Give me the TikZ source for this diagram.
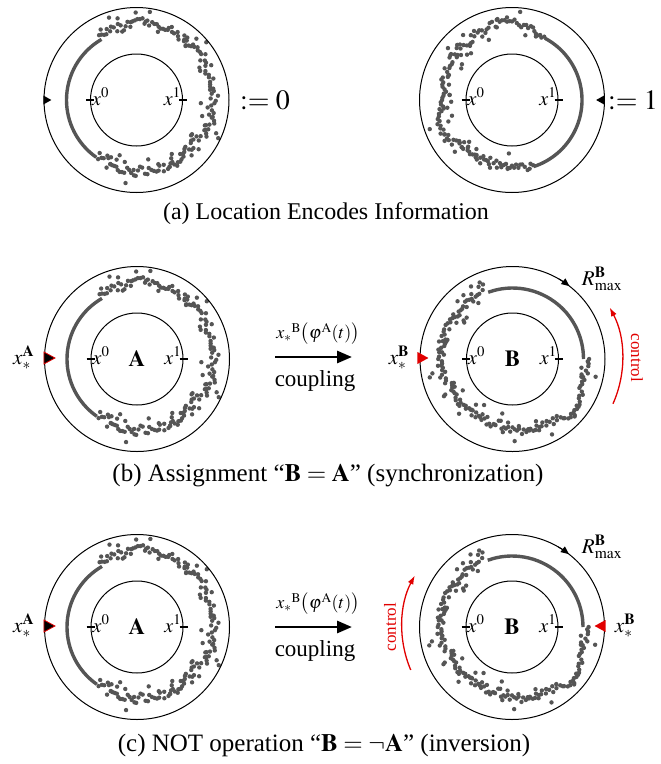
\documentclass[tikz,border=0pt]{standalone}
\usepackage{mathptmx}
\usepackage{fontspec}
\setmainfont{Liberation Serif}
\usetikzlibrary{positioning,shapes.geometric,arrows.meta}

\definecolor{dotgray}{RGB}{85,85,85}
\definecolor{ctrlred}{RGB}{225,0,0}

% ring with ticks at x^0 and x^1
\newcommand\ring[3]{%
  \node[outerring] (#1o) at (#2,#3) {};
  \node[innerring] (#1i) at (#2,#3) {};
  \draw[tickmark] ([xshift=-4pt]#1i.west) -- ([xshift=4pt]#1i.west);
  \draw[tickmark] ([xshift=-4pt]#1i.east) -- ([xshift=4pt]#1i.east);
  \node[idx, anchor=base west] (#1x0) at ([xshift=2pt,yshift=-5pt]#1i.west) {$x^0$};
  \node[idx, anchor=base east] (#1x1) at ([xshift=-2pt,yshift=-5pt]#1i.east) {$x^1$};
}

% noisy cloud of states along the ring
\newcommand\dotband[6]{%
  \begin{scope}[shift={(#1,#2)}]
    \pgfmathsetseed{#6}
    \gdef\walk{0}
    \foreach \a in {#3,#4,...,#5}{
      \pgfmathsetmacro\w{max(-7,min(7,\walk+2.6*rand))}
      \xdef\walk{\w}
      \pgfmathsetmacro\rr{73+\walk+3.5*rand}
      \fill[dotgray] (\a:\rr) circle[radius=2.2];
      \pgfmathparse{rnd}
      \ifdim\pgfmathresult pt<0.3pt
        \pgfmathsetmacro\rr{73+\walk+13*rand}
        \fill[dotgray] (\a+3*rand:\rr) circle[radius=2.2];
      \fi
    }
  \end{scope}}

\begin{document}
\begin{tikzpicture}[
  x=1pt, y=1pt,
  outerring/.style={draw, circle, line width=1pt, minimum size=185pt, inner sep=0pt},
  innerring/.style={draw, circle, line width=1pt, minimum size=92pt, inner sep=0pt},
  tickmark/.style={line width=1.4pt},
  idx/.style={inner sep=0pt, font=\fontsize{20}{22}\selectfont},
  lbl/.style={inner sep=1pt, font=\fontsize{21}{23}\selectfont},
  bit/.style={inner sep=0pt, font=\fontsize{28}{30}\selectfont},
  caption/.style={inner sep=0pt, font=\fontsize{25}{27}\selectfont},
  thickband/.style={dotgray, line width=3.4pt},
  marker/.style={isosceles triangle, isosceles triangle stretches, inner sep=0pt,
    minimum width=12pt, minimum height=11pt},
  smallmarker/.style={isosceles triangle, isosceles triangle stretches, inner sep=0pt,
    fill=black, minimum width=9pt, minimum height=8pt},
  ctrl/.style={ctrlred, line width=1.3pt, -{Latex[length=9pt,width=6pt]}},
  couple/.style={line width=2.8pt, -{Triangle[length=15pt,width=12pt]}}
]
\useasboundingbox (0,0) rectangle (661,-764);

% (a)
\dotband{136.5}{-100}{120}{118.2}{-125}{11}
\draw[thickband] ([shift={(136.5,-100)}]120:70) arc[start angle=120, end angle=235, radius=70];
\ring{a}{136.5}{-100}
\node[smallmarker] (aM) at (46,-100) {};
\node[bit] (aval) at (265,-100) {$:= 0$};

\dotband{512}{-100}{-72}{-73.8}{-298}{23}
\draw[thickband] ([shift={(512,-100)}]62:70) arc[start angle=62, end angle=-72, radius=70];
\ring{b}{512}{-100}
\node[smallmarker, shape border rotate=180] (bM) at (601.5,-100) {};
\node[bit, anchor=west] (bval) at (608,-100) {$:= 1$};

\node[caption, font=\fontsize{24}{26}\selectfont] (capa) at (326,-214) {(a) Location Encodes Information};

% (b)
\dotband{137}{-359}{120}{118.2}{-125}{11}
\draw[thickband] ([shift={(137,-359)}]120:70) arc[start angle=120, end angle=235, radius=70];
\ring{c}{137}{-359}
\node[lbl, font=\fontsize{23}{25}\selectfont] at (ci) {$\mathbf{A}$};
\node[marker, draw=ctrlred, fill=black, line width=0.8pt] (cM) at (47.5,-358) {};
\node[lbl, left=8pt of cM] (cX) {$x_*^{\mathbf{A}}$};

\dotband{512.5}{-359}{0}{-1.8}{-250}{37}
\draw[thickband] ([shift={(512.5,-359)}]110:71) arc[start angle=110, end angle=0, radius=71];
\ring{d}{512.5}{-359}
\node[lbl, font=\fontsize{23}{25}\selectfont] at (di) {$\mathbf{B}$};
\node[marker, fill=ctrlred] (dM) at (421,-358) {};
\node[lbl, left=7pt of dM] (dX) {$x_*^{\mathbf{B}}$};
\draw[-{Triangle[length=8pt,width=7pt]}, line width=1pt] ([shift={(512.5,-359)}]60:92.5) arc[start angle=60, end angle=52, radius=92.5];
\node[lbl] (dR) at (602,-279) {$R^{\mathbf{B}}_{\max}$};
\draw[ctrl] ([shift={(512.5,-359)}]-24:110) arc[start angle=-24, end angle=28, radius=110];
\node[lbl, ctrlred, rotate=-90, font=\fontsize{17}{19}\selectfont] (dC) at (637,-358) {control};

\coordinate (cpl1) at (275,-357);
\coordinate (cpl2) at (352,-357);
\draw[couple] (cpl1) -- (cpl2);
\node[lbl, font=\fontsize{18}{20}\selectfont] at (318,-334) {${x_*}^{\mathrm{B}}\bigl(\varphi^{\mathrm{A}}(t)\bigr)$};
\node[lbl, font=\fontsize{23}{25}\selectfont] at (315,-381) {coupling};

\node[caption] (capb) at (328,-476) {(b) Assignment “$\mathbf{B}=\mathbf{A}$” (synchronization)};

% (c)
\dotband{137}{-627}{120}{118.2}{-125}{11}
\draw[thickband] ([shift={(137,-627)}]120:70) arc[start angle=120, end angle=235, radius=70];
\ring{e}{137}{-627}
\node[lbl, font=\fontsize{23}{25}\selectfont] at (ei) {$\mathbf{A}$};
\node[marker, draw=ctrlred, fill=black, line width=0.8pt] (eM) at (47.5,-626) {};
\node[lbl, left=8pt of eM] (eX) {$x_*^{\mathbf{A}}$};

\dotband{512}{-627}{0}{-1.8}{-250}{37}
\draw[thickband] ([shift={(512,-627)}]110:71) arc[start angle=110, end angle=0, radius=71];
\ring{f}{512}{-627}
\node[lbl, font=\fontsize{23}{25}\selectfont] at (fi) {$\mathbf{B}$};
\node[marker, fill=ctrlred, shape border rotate=180] (fM) at (602,-626) {};
\node[lbl, right=8pt of fM] (fX) {$x_*^{\mathbf{B}}$};
\draw[-{Triangle[length=8pt,width=7pt]}, line width=1pt] ([shift={(512,-627)}]60:92.5) arc[start angle=60, end angle=52, radius=92.5];
\node[lbl] (fR) at (602,-547) {$R^{\mathbf{B}}_{\max}$};
\draw[ctrl] ([shift={(512,-627)}]203:110) arc[start angle=203, end angle=152, radius=110];
\node[lbl, ctrlred, rotate=90, font=\fontsize{17}{19}\selectfont] (fC) at (390,-627) {control};

\coordinate (cpl3) at (275,-627);
\coordinate (cpl4) at (352,-627);
\draw[couple] (cpl3) -- (cpl4);
\node[lbl, font=\fontsize{18}{20}\selectfont] at (318,-604) {${x_*}^{\mathrm{B}}\bigl(\varphi^{\mathrm{A}}(t)\bigr)$};
\node[lbl, font=\fontsize{23}{25}\selectfont] at (315,-651) {coupling};

\node[caption] (capc) at (324,-745) {(c) NOT operation “$\mathbf{B}=\neg\mathbf{A}$” (inversion)};
\end{tikzpicture}
\end{document}
